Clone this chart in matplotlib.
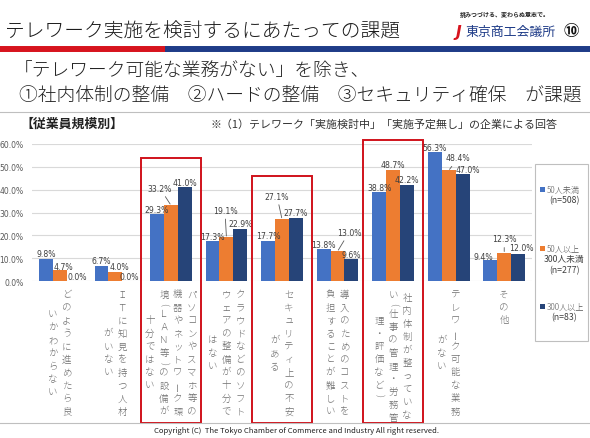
import matplotlib.pyplot as plt
from matplotlib.patches import Rectangle
from matplotlib.lines import Line2D

plt.rcParams['font.family'] = ['Noto Sans CJK JP', 'DejaVu Sans']

W, H = 590, 439

# category labels, one string per vertical column (right to left)
categories = [
    ['どのように進めたら良', 'いかわからない'],
    ['ＩＴに知見を持つ人材', 'がいない'],
    ['パソコンやスマホ等の', '機器やネットワーク環', '境(ＬＡＮ等)の設備が', '十分ではない'],
    ['クラウドなどのソフト', 'ウェアの整備が十分で', 'はない'],
    ['セキュリティ上の不安', 'がある'],
    ['導入のためのコストを', '負担することが難しい'],
    ['社内体制が整っていな', 'い(仕事の管理・労務管', '理・評価など)'],
    ['テレワーク可能な業務', 'がない'],
    ['その他'],
]
series_names = ['50人未満', '50人以上', '300人以上']
series_sub = [['(n=508)'], ['300人未満', '(n=277)'], ['(n=83)']]
small = [9.8, 6.7, 29.3, 17.3, 17.7, 13.8, 38.8, 56.3, 9.4]
middle = [4.7, 4.0, 33.2, 19.1, 27.1, 13.0, 48.7, 48.4, 12.3]
large = [0.0, 0.0, 41.0, 22.9, 27.7, 9.6, 42.2, 47.0, 12.0]
yticks = [0, 10, 20, 30, 40, 50, 60]
highlight = [2, 4, 6]

colors = ['#4472C4', '#ED7D31', '#264478']
txt_gray = '#595959'
num_font = 'DejaVu Sans'

# label offsets in pixels (dx, dy above bar top), leader line flag
label_off = {
    (0, 1): (4, 4, False), (0, 2): (4, 5, False), (1, 1): (4, 5, False),
    (2, 1): (-11, 17, True), (3, 1): (-1.5, 27, True), (4, 1): (-5, 23, True),
    (5, 1): (11.5, 19, True), (7, 1): (9.5, 12.5, True), (7, 2): (5, 4, False),
    (8, 0): (-7, 3.5, False), (8, 1): (0, 14, True), (8, 2): (3, 6, False),
}
box_top_px = {2: 159, 4: 177, 6: 141}

PT = 0.72  # points per pixel at dpi 100


def fx(x):
    return x / W


def fy(y):
    return 1 - y / H


fig = plt.figure(figsize=(5.9, 4.39), dpi=100)

# header
fig.text(fx(5), fy(32), 'テレワーク実施を検討するにあたっての課題', fontsize=14.2,
         color='#1a1a1a', va='center', ha='left', fontweight='light')
fig.text(fx(505), fy(15), '挑みつづける、変わらぬ意志で。', fontsize=4.3,
         color='#222222', va='center', ha='center', fontweight='bold')
fig.text(fx(458), fy(32), 'J', fontsize=11, color='#D7141E', va='center',
         ha='center', fontweight='bold', style='italic', family='DejaVu Sans')
fig.text(fx(465), fy(32), '東京商工会議所', fontsize=9.3, color='#1F3C88',
         va='center', ha='left')
fig.text(fx(571), fy(31), '⑩', fontsize=11, color='#111111', va='center',
         ha='center', fontweight='bold')
fig.add_artist(Line2D([0, fx(168)], [fy(50), fy(50)], color='#D7141E', lw=4.3))
fig.add_artist(Line2D([fx(168), 1], [fy(50), fy(50)], color='#1F3C88', lw=4.3))

fig.text(fx(14), fy(71), '「テレワーク可能な業務がない」を除き、', fontsize=13.5,
         color='#222222', va='center', ha='left', fontweight='light')
fig.text(fx(19), fy(96), '①社内体制の整備　②ハードの整備　③セキュリティ確保　が課題',
         fontsize=13.5, color='#222222', va='center', ha='left', fontweight='light')
fig.add_artist(Line2D([0, 1], [fy(112.5), fy(112.5)], color='#BFBFBF', lw=0.8))
fig.text(fx(20), fy(124), '【従業員規模別】', fontsize=9.3, color='#222222',
         va='center', ha='left', fontweight='bold')
fig.text(fx(210), fy(124), '※（1）テレワーク「実施検討中」「実施予定無し」の企業による回答',
         fontsize=7.9, color='#333333', va='center', ha='left')

# chart
ax = fig.add_axes([fx(32), fy(282), 500 / W, 137 / H])
ax.set_xlim(-0.5, len(categories) - 0.5)
ax.set_ylim(0, 60)
for s in ax.spines.values():
    s.set_visible(False)
ax.set_yticks(yticks)
ax.set_yticklabels(['%.1f%%' % v for v in yticks], fontsize=5.5, color=txt_gray,
                   family=num_font)
ax.tick_params(axis='y', length=0, pad=6)
ax.set_xticks([])
ax.grid(axis='y', color='#D9D9D9', lw=0.8)
ax.set_axisbelow(True)

bw = 0.25
for s, vals in enumerate([small, middle, large]):
    xs = [k + (s - 1) * bw for k in range(len(vals))]
    ax.bar(xs, vals, width=bw, color=colors[s], zorder=2)
    for k, v in enumerate(vals):
        dx, dy, lead = label_off.get((k, s), (0, 5, False))
        kw = {}
        if lead:
            kw['arrowprops'] = dict(arrowstyle='-', color='#595959', lw=0.6,
                                    shrinkA=1, shrinkB=1)
        ax.annotate('%.1f%%' % v, xy=(xs[k], v), xytext=(dx * PT, dy * PT),
                    textcoords='offset points', ha='center', va='center',
                    fontsize=5.6, color='#404040', family=num_font, zorder=3, **kw)

# vertical category labels
pitch = 13
colgap = 14
for k, cols in enumerate(categories):
    def clen(c):
        return sum(0.5 if ch in '()' else 1 for ch in c)
    m = max(clen(c) for c in cols)
    n = len(cols)
    for j, col in enumerate(cols):
        xo = ((n - 1) / 2 - j) * colgap
        pos = (m - clen(col)) / 2
        for ch in col:
            adv = 0.5 if ch in '()' else 1
            yc = 13 + (pos + adv / 2 - 0.5) * pitch
            rot = 90 if ch == 'ー' else (-90 if ch in '()' else 0)
            ax.annotate(ch, xy=(k, 0), xycoords=('data', 'axes fraction'),
                        xytext=(xo * PT, -yc * PT), textcoords='offset points',
                        ha='center', va='center', fontsize=6.8, color='#707070',
                        rotation=rot, annotation_clip=False, fontweight='light')
            pos += adv

# red highlight boxes
ppu = 137 / 60
for k in highlight:
    top = (282 - box_top_px[k]) / ppu
    bot = (282 - 424) / ppu
    ax.add_patch(Rectangle((k - 0.54, bot), 1.08, top - bot, fill=False,
                           edgecolor='#D0121B', lw=1.4, clip_on=False, zorder=4))

# legend
fig.add_artist(Rectangle((fx(535), fy(342)), 53 / W, 177 / H, transform=fig.transFigure,
                         facecolor='white', edgecolor='#BFBFBF', lw=0.8, zorder=5))
leg_y = [190, 249, 307]
for s, name in enumerate(series_names):
    y = leg_y[s]
    fig.add_artist(Rectangle((fx(539.5), fy(y + 2.5)), 5 / W, 5 / H,
                             transform=fig.transFigure, facecolor=colors[s],
                             edgecolor='none', zorder=6))
    fig.text(fx(546.5), fy(y), name, fontsize=5.9, color=txt_gray, va='center',
             ha='left', zorder=6, fontweight='light')
    for i, sub in enumerate(series_sub[s]):
        fig.text(fx(564), fy(y + 11 * (i + 1)), sub, fontsize=6.3, color='#404040',
                 va='center', ha='center', zorder=6)

# footer
fig.add_artist(Line2D([0, 1], [fy(424), fy(424)], color='#BFBFBF', lw=0.8))
fig.text(fx(296), fy(431), 'Copyright (C)  The Tokyo Chamber of Commerce and Industry All right reserved.',
         fontsize=5.5, color='#222222', va='center', ha='center')

fig.savefig('out.png', dpi=100)
